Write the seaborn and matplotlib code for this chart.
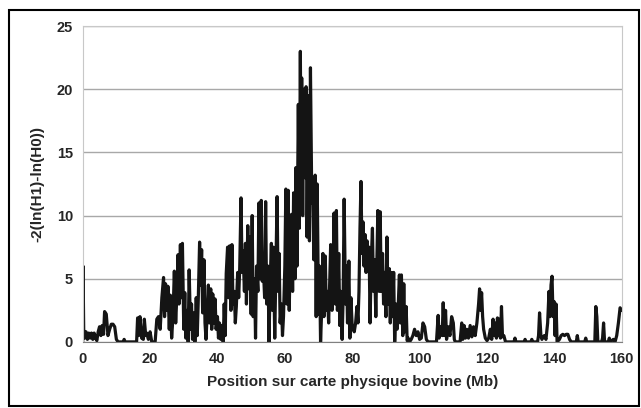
import numpy as np
import pandas as pd
import matplotlib
matplotlib.use('Agg')
import matplotlib.pyplot as plt
from matplotlib.patches import Rectangle
import seaborn as sns

# Position (Mb) and test statistic
position = [
    0, 0.1, 0.3, 0.6, 1.0, 1.4, 1.8, 2.2, 2.6, 3.0, 3.4, 3.8, 4.2, 4.6, 5.0, 5.4, 5.8,
    6.2, 6.5, 7.0, 7.5, 8.0, 8.5, 9.0, 9.5, 10.0, 10.5, 12.0, 12.3, 12.6, 16.0, 16.3,
    16.6, 17.0, 17.5, 18.0, 18.3, 18.7, 19.0, 19.5, 20.0, 20.5, 21.5, 22.0, 22.5, 23.0,
    23.5, 24.0, 24.3, 24.6, 25.0, 25.3, 25.7, 26.0, 26.4, 26.8, 27.2, 27.6, 28.0, 28.3,
    28.6, 29.0, 29.3, 29.6, 30.0, 30.3, 30.6, 31.0, 31.3, 31.6, 32.0, 32.3, 32.6, 33.0,
    33.3, 33.7, 34.0, 34.3, 34.7, 35.0, 35.3, 35.6, 36.0, 36.3, 36.6, 37.0, 37.3, 37.6,
    38.0, 38.3, 38.6, 39.0, 39.3, 39.6, 40.0, 40.3, 40.6, 41.0, 41.4, 41.7, 42.0, 42.3,
    42.6, 43.0, 43.3, 43.6, 44.0, 44.3, 44.6, 45.0, 45.3, 45.6, 46.0, 46.3, 46.6, 47.0,
    47.3, 47.6, 48.0, 48.3, 48.6, 49.0, 49.3, 49.6, 50.0, 50.3, 50.6, 51.0, 51.3, 51.6,
    52.0, 52.3, 52.6, 53.0, 53.3, 53.6, 54.0, 54.3, 54.6, 55.0, 55.3, 55.6, 56.0, 56.3,
    56.6, 57.0, 57.3, 57.7, 58.0, 58.3, 58.6, 59.0, 59.3, 59.6, 60.0, 60.3, 60.6, 61.0,
    61.3, 61.6, 62.0, 62.3, 62.6, 63.0, 63.3, 63.6, 64.0, 64.3, 64.6, 64.8, 65.0, 65.3,
    65.6, 66.0, 66.3, 66.6, 67.0, 67.3, 67.6, 68.0, 68.3, 68.6, 69.0, 69.3, 69.6, 70.0,
    70.3, 70.6, 71.0, 71.3, 71.6, 72.0, 72.3, 72.6, 73.0, 73.3, 73.6, 74.0, 74.3, 74.6,
    75.0, 75.3, 75.6, 76.0, 76.3, 76.6, 77.0, 77.3, 77.6, 78.0, 78.3, 78.6, 79.0, 79.3,
    79.6, 80.0, 80.3, 80.6, 81.0, 81.4, 81.7, 82.0, 82.3, 82.6, 82.9, 83.2, 83.5, 83.8,
    84.1, 84.4, 84.7, 85.0, 85.3, 85.6, 86.0, 86.3, 86.6, 87.0, 87.3, 87.6, 88.0, 88.3,
    88.6, 89.0, 89.3, 89.6, 90.0, 90.3, 90.6, 91.0, 91.3, 91.6, 92.0, 92.3, 92.6, 93.0,
    93.3, 93.6, 94.0, 94.3, 94.6, 95.0, 95.3, 95.6, 96.0, 96.3, 96.6, 97.0, 97.5, 98.0,
    98.5, 99.0, 99.5, 100.0, 100.5, 101.0, 101.5, 102.0, 102.5, 105.0, 105.5, 105.8,
    106.3, 106.7, 107.0, 107.3, 107.7, 108.0, 108.5, 109.0, 109.5, 110.0, 110.3, 110.6,
    112.0, 112.5, 112.8, 113.2, 113.6, 114.0, 114.5, 115.0, 115.5, 116.0, 116.5, 117.0,
    117.5, 117.8, 118.1, 118.4, 118.7, 119.0, 119.5, 120.0, 120.5, 121.0, 121.4, 121.8,
    122.1, 122.4, 122.8, 123.1, 123.4, 123.7, 124.0, 124.3, 124.6, 125.0, 125.5, 128.0,
    128.3, 128.6, 131.0, 131.3, 131.6, 133.0, 133.3, 133.6, 135.0, 135.3, 135.6, 136.0,
    136.3, 137.0, 137.5, 138.0, 138.4, 138.7, 139.0, 139.3, 139.6, 139.9, 140.2, 140.5,
    140.8, 141.5, 142.0, 142.5, 143.0, 143.5, 144.0, 144.5, 145.0, 146.5, 146.8, 147.1,
    149.0, 149.3, 149.6, 152.0, 152.3, 152.6, 152.9, 154.0, 154.3, 154.6, 154.9, 156.0,
    156.3, 156.6, 157.5, 158.0, 158.5, 159.0, 159.5, 160.0,
]
lrt = [
    0, 6.0, 1.0, 0.3, 0.8, 0.2, 0.7, 0.3, 0.7, 0.2, 0.7, 0.3, 0.1, 0.8, 1.2, 0.5, 1.3,
    0.6, 2.4, 2.2, 0.5, 1.0, 1.4, 1.4, 1.2, 0.2, 0.0, 0.0, 0.2, 0.0, 0.0, 1.9,
    0.5, 2.0, 0.3, 0.2, 1.8, 0.5, 0.7, 0.2, 0.8, 0.0, 0.0, 1.8, 2.0, 1.0,
    3.5, 5.1, 2.0, 4.6, 2.5, 4.4, 1.0, 3.7, 0.3, 2.0, 5.6, 1.5, 4.0, 6.9,
    3.0, 7.7, 3.5, 7.8, 1.0, 3.9, 0.3, 2.5, 0.0, 5.7, 1.0, 3.0, 0.2, 2.3,
    0.0, 3.5, 0.5, 3.3, 7.9, 4.5, 7.3, 2.3, 6.5, 1.5, 0.2, 2.5, 4.5, 1.5,
    4.2, 1.0, 3.8, 1.5, 3.4, 1.0, 2.0, 0.3, 1.5, 0.2, 1.3, 0.0, 3.0, 0.5,
    5.4, 7.5, 3.5, 7.6, 2.5, 7.7, 3.0, 4.0, 1.5, 2.8, 5.5, 3.5, 5.8, 11.4,
    5.5, 7.2, 4.0, 7.8, 3.0, 9.2, 4.2, 8.3, 2.2, 10.0, 2.0, 5.0, 0.3, 6.0,
    4.0, 11.0, 5.0, 11.2, 4.8, 6.0, 3.5, 11.1, 3.0, 6.0, 0.0, 4.3, 7.8, 2.5,
    7.5, 0.3, 5.0, 11.5, 4.0, 7.0, 1.5, 3.0, 0.5, 2.0, 6.0, 12.1, 3.0, 12.0,
    2.5, 7.0, 10.1, 4.0, 11.8, 5.0, 13.8, 6.0, 18.8, 9.0, 23.0, 14.0, 20.9, 10.0,
    20.0, 13.0, 20.2, 8.3, 19.5, 8.0, 21.7, 11.0, 12.0, 6.5, 13.2, 2.0, 12.5, 2.2,
    6.0, 0.0, 3.0, 7.0, 2.0, 6.8, 2.5, 4.0, 1.5, 4.5, 7.7, 2.5, 5.0, 10.2,
    3.0, 10.4, 2.5, 7.0, 1.3, 4.0, 0.2, 3.5, 11.3, 3.0, 6.0, 1.5, 6.4, 0.3,
    3.5, 1.2, 1.0, 0.8, 1.5, 2.8, 1.5, 4.0, 9.0, 12.7, 7.0, 9.5, 6.0, 8.5,
    5.5, 8.0, 6.0, 7.5, 1.5, 6.0, 9.0, 4.0, 6.5, 2.0, 6.0, 10.4, 4.0, 10.3,
    4.0, 7.0, 3.0, 5.5, 2.0, 8.3, 3.0, 5.8, 1.5, 5.5, 2.0, 5.5, 0.0, 3.0,
    1.0, 2.5, 5.3, 1.5, 5.3, 0.5, 4.6, 0.8, 2.8, 0.1, 0.3, 0.0, 0.2, 0.5,
    1.0, 0.5, 0.8, 0.2, 0.3, 1.5, 1.2, 0.2, 0.0, 0.0, 2.1, 0.3,
    1.2, 0.5, 3.1, 0.5, 2.5, 0.2, 1.2, 0.5, 2.0, 1.5, 0.2, 0.0,
    0.0, 1.5, 0.2, 1.3, 0.3, 1.0, 0.3, 1.3, 0.4, 1.2, 0.5, 1.5,
    3.0, 4.2, 2.5, 3.9, 2.0, 1.0, 0.3, 0.1, 0.3, 1.0, 0.2, 1.8,
    0.5, 1.5, 0.3, 1.9, 0.5, 1.8, 0.3, 2.8, 0.4, 0.5, 0.0, 0.0,
    0.3, 0.0, 0.0, 0.2, 0.0, 0.0, 0.2, 0.0, 0.0, 0.5, 2.3, 0.5,
    0.2, 0.5, 0.2, 1.5, 4.0, 2.0, 4.5, 5.2, 2.0, 3.2, 0.5, 3.0,
    0.0, 0.2, 0.5, 0.6, 0.5, 0.6, 0.6, 0.2, 0.0, 0.0, 0.5, 0.0,
    0.0, 0.3, 0.0, 0.0, 2.8, 2.0, 0.0, 0.0, 0.3, 1.5, 0.0, 0.0,
    0.3, 0.0, 0.2, 0.0, 0.5, 1.5, 2.7, 2.5,
]
x_ticks = [0, 20, 40, 60, 80, 100, 120, 140, 160]
y_ticks = [0, 5, 10, 15, 20, 25]

df = pd.DataFrame({'pos': position, 'lrt': lrt})

sns.set_style('white')
plt.rcParams['font.family'] = ['Liberation Sans', 'DejaVu Sans']

fig = plt.figure(figsize=(6.41, 4.08), dpi=100)
ax = fig.add_axes([0.129, 0.162, 0.841, 0.774])

sns.lineplot(data=df, x='pos', y='lrt', ax=ax, color='#141414',
             linewidth=2.3, sort=False, estimator=None)

ax.set_xlim(0, 160)
ax.set_ylim(0, 25)
ax.set_xticks(x_ticks)
ax.set_yticks(y_ticks)
ax.yaxis.grid(True, color='#a8a8a8', linewidth=1)
ax.set_axisbelow(True)
for s in ['top', 'right', 'left']:
    ax.spines[s].set_color('#c8c8c8')
ax.spines['bottom'].set_color('#808080')
ax.tick_params(axis='both', labelsize=10.5, length=0, pad=7)
for lab in ax.get_xticklabels() + ax.get_yticklabels():
    lab.set_fontweight('bold')

ax.set_xlabel('Position sur carte physique bovine (Mb)', fontsize=11,
              fontweight='bold', labelpad=7)
ax.set_ylabel('-2(ln(H1)-ln(H0))', fontsize=11, fontweight='bold',
              labelpad=9)

# frame around the whole figure
fig.patches.append(Rectangle((9 / 641, 2 / 408), 630 / 641, 396 / 408,
                             transform=fig.transFigure, fill=False,
                             edgecolor='black', linewidth=1.5))

fig.savefig('out.png', dpi=100)
